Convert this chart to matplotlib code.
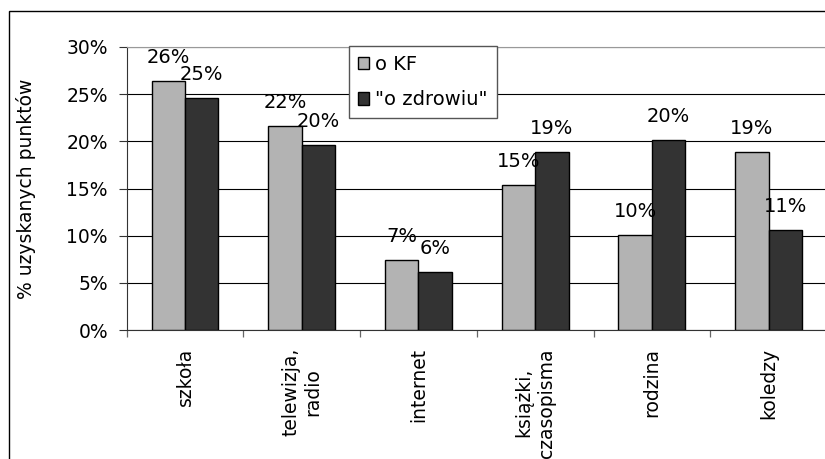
import numpy as np
import matplotlib
matplotlib.use("Agg")
import matplotlib.pyplot as plt
from matplotlib.patches import Rectangle

# źródła wiedzy: udział punktów dla dwóch części testu
categories = ["szkoła", "telewizja,\nradio", "internet", "książki,\nczasopisma", "rodzina", "koledzy"]
kf_vals = [26.4, 21.6, 7.4, 15.4, 10.1, 18.9]
zdrowie_vals = [24.6, 19.6, 6.1, 18.9, 20.1, 10.6]
series_names = ["o KF", "\"o zdrowiu\""]
yticks = [0, 5, 10, 15, 20, 25, 30]

plt.rcParams["font.family"] = "DejaVu Sans"
plt.rcParams["font.size"] = 13.5

W, H = 825, 459
fig = plt.figure(figsize=(W / 100, H / 100), dpi=100)

# ramka całego wykresu (wychodzi poza prawy i dolny brzeg)
fig.patches.append(Rectangle((9 / W, -0.1), 1.1, 1 - 11 / H + 0.1, transform=fig.transFigure,
                             fill=False, edgecolor="black", lw=1.0))

ax = fig.add_axes([126.7 / W, 1 - 330 / H, 700.2 / W, (330 - 47) / H])

x = np.arange(len(categories))
bw = 0.286
ax.bar(x - bw / 2, kf_vals, bw, color="#b3b3b3", edgecolor="black", lw=1.0, label=series_names[0], zorder=3)
ax.bar(x + bw / 2, zdrowie_vals, bw, color="#333333", edgecolor="black", lw=1.0, label=series_names[1], zorder=3)

for xs, vals in ((x - bw / 2, kf_vals), (x + bw / 2, zdrowie_vals)):
    for xi, v in zip(xs, vals):
        ax.annotate(f"{v:.0f}%", (xi, v), xytext=(0, 13), textcoords="offset points",
                    ha="center", va="baseline", fontsize=14, zorder=5, annotation_clip=False)

ax.set_xlim(-0.5, len(categories) - 0.5)
ax.set_ylim(0, 30)
ax.set_yticks(yticks)
ax.set_yticklabels([f"{t}%" for t in yticks])
ax.tick_params(axis="y", length=5.5, width=0.8, pad=8, color="#333333")

ax.set_xticks(x)
ax.set_xticklabels(categories, rotation=90, ha="center", va="top", multialignment="center")
ax.tick_params(axis="x", which="major", length=0, pad=13)
ax.set_xticks(np.arange(len(categories) + 1) - 0.5, minor=True)
ax.tick_params(axis="x", which="minor", length=5, width=0.9, color="#666666")

ax.yaxis.grid(True, color="black", lw=0.8, zorder=0)
ax.set_axisbelow(True)
ax.spines["top"].set_color("#999999")
ax.spines["right"].set_visible(False)
ax.spines["left"].set_color("#333333")
ax.spines["bottom"].set_color("#333333")

ax.set_ylabel("% uzyskanych punktów", fontsize=13.5)
ax.yaxis.set_label_coords(-(126.7 - 36) / 700.2, 0.5)

leg = fig.legend(loc="upper left", bbox_to_anchor=(349 / W, 1 - 46 / H), fontsize=14,
                 frameon=True, fancybox=False, edgecolor="#555555", framealpha=1,
                 handlelength=0.6, handleheight=0.6, handletextpad=0.3,
                 labelspacing=0.85, borderpad=0.45, borderaxespad=0)
leg.get_frame().set_linewidth(1.0)

fig.savefig("out.png", dpi=100)
